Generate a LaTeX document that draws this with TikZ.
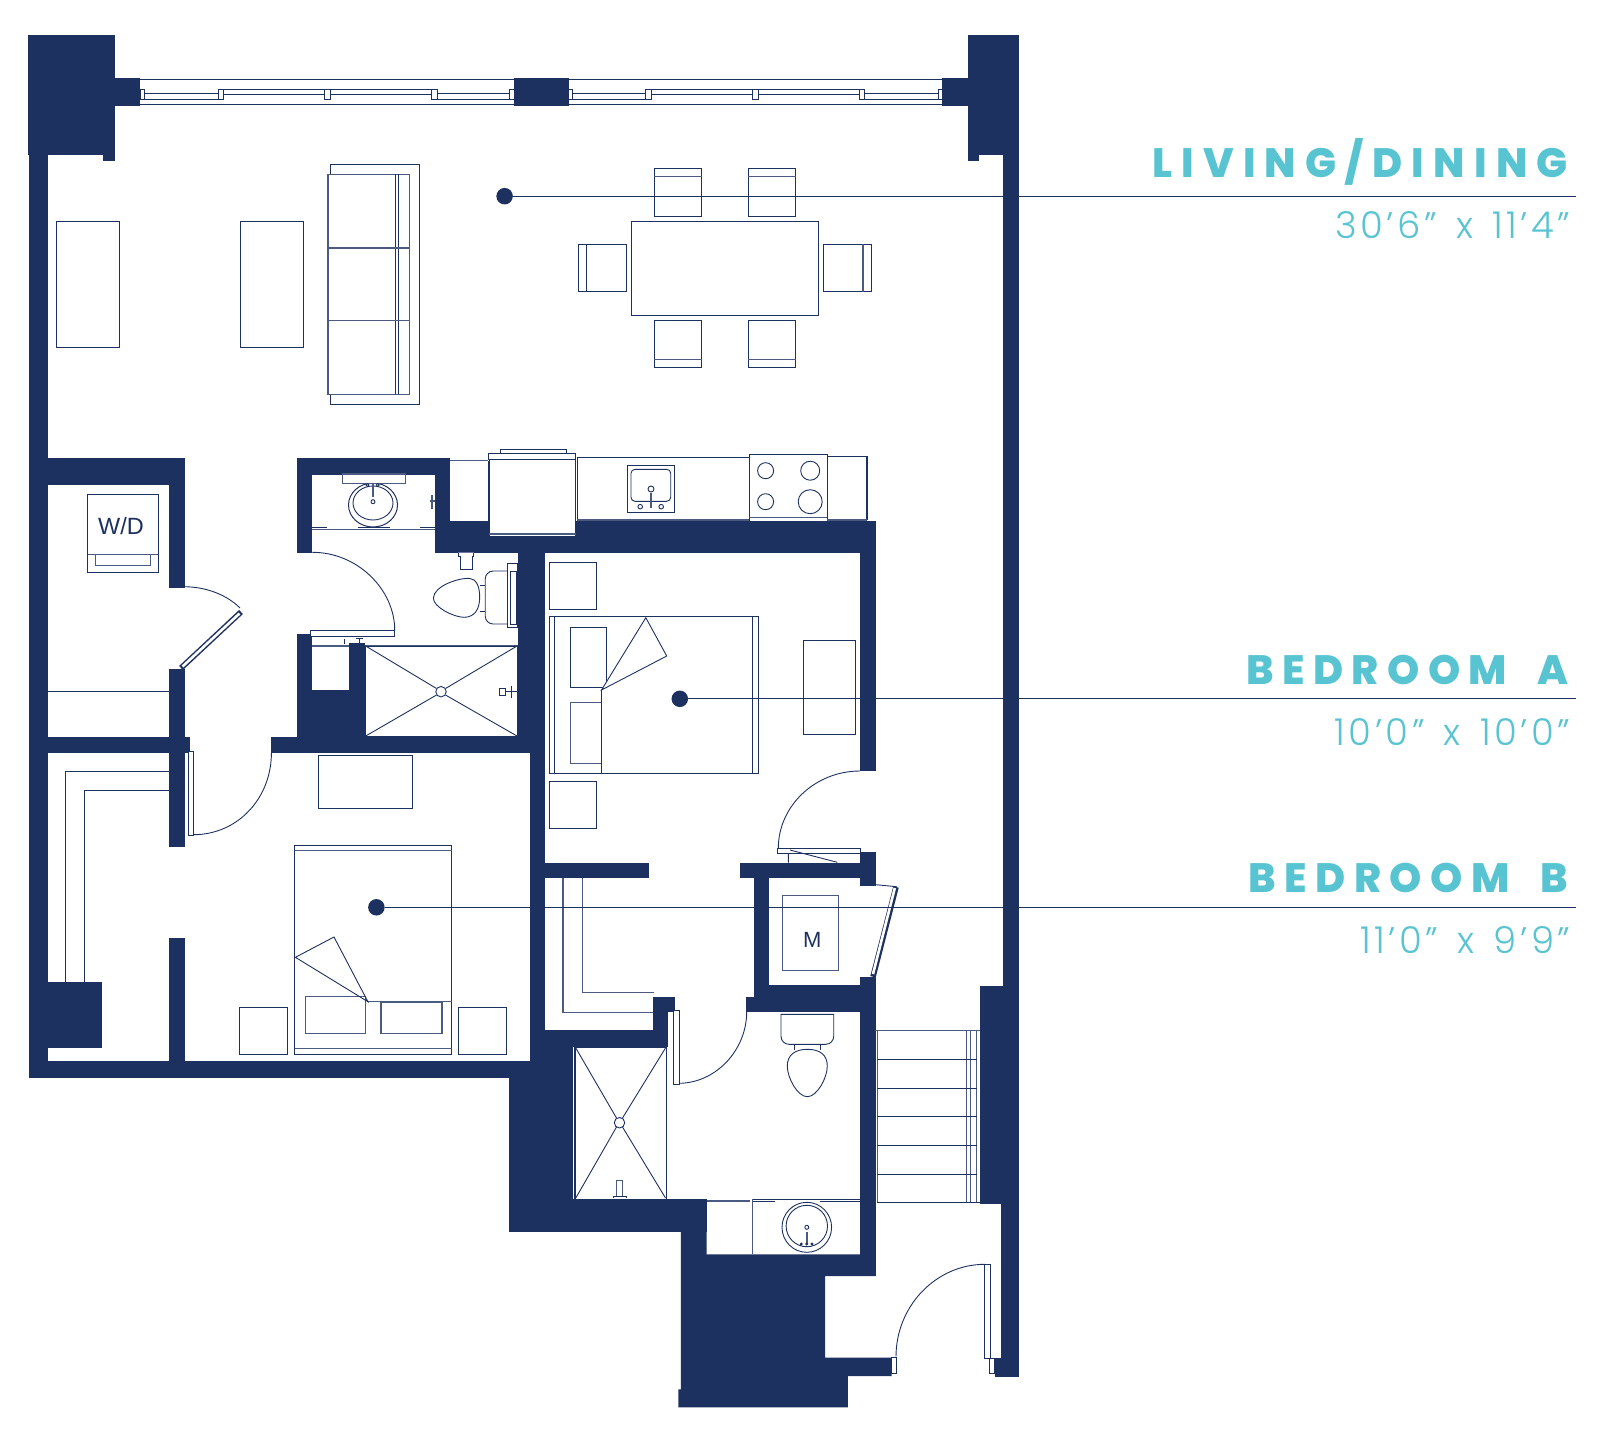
\documentclass[tikz,border=0pt]{standalone}
\usepackage{fontspec}
\setmainfont{Liberation Sans}
\newfontfamily\headfont[LetterSpace=22.5,WordSpace=1.15]{Poppins ExtraBold}
\newfontfamily\roomfont[LetterSpace=20.5,WordSpace=1.9]{Poppins ExtraBold}
\newfontfamily\subfont[LetterSpace=9.5,WordSpace=1.4]{Poppins Light}
\definecolor{navy}{HTML}{1D3160}
\definecolor{teal}{HTML}{59C4D1}
\tikzset{
  wallfill/.style={fill=navy,draw=none},
  fine/.style={draw=navy,line width=0.9pt,fill=none},
  mid/.style={draw=navy!80,line width=1.4pt,fill=none},
  piece/.style={draw=navy,line width=1pt,fill=white},
  roomdot/.style={circle,fill=navy,inner sep=0pt,minimum size=16.5pt},
  leader/.style={draw=navy,line width=0.9pt},
  head/.style={text=teal,anchor=base east,inner sep=0pt,font=\headfont\fontsize{41}{41}\selectfont},
  roomhead/.style={text=teal,anchor=base east,inner sep=0pt,font=\roomfont\fontsize{41}{41}\selectfont},
  dims/.style={text=teal,anchor=base east,inner sep=0pt,font=\subfont\fontsize{37}{37}\selectfont},
  unitlabel/.style={text=navy,inner sep=0pt,font=\fontsize{22}{22}\selectfont},
  doorleaf/.style={draw=navy,line width=5.6pt},
  doorcore/.style={draw=white,line width=2.6pt}
}
\newcommand{\wallbox}[4]{\fill[wallfill] (#1,#2) rectangle (#3,#4);}
\newcommand{\pc}[4]{\draw[piece] (#1,#2) rectangle (#3,#4);}
\begin{document}
\begin{tikzpicture}[x=1pt,y=-1pt]
\useasboundingbox (0,0) rectangle (1600,1438);
% ---------- living furniture
\pc{56.4}{221.3}{119.3}{347}
\pc{240.7}{221.3}{303.2}{347}
\pc{330.4}{164.3}{419.6}{404.3}
\draw[mid,fill=white] (327.9,174.3) rectangle (409.3,394.3);
\draw[fine] (395.7,174.3)--(395.7,394.3) (398.2,174.3)--(398.2,394.3);
\draw[mid] (327.9,248)--(409.3,248) (327.9,320.7)--(409.3,320.7);
% dining
\pc{631}{221}{818.6}{315}
\foreach \x in {654.3,748.2}{
  \pc{\x}{168.3}{\x+47.5}{216.3}
  \draw[mid] (\x,176.7)--(\x+47.5,176.7);
  \pc{\x}{320.3}{\x+47.5}{367.3}
  \draw[mid] (\x,359.3)--(\x+47.5,359.3);
}
\pc{578.2}{244.3}{626.4}{291.7}
\draw[fine] (586.8,244.3)--(586.8,291.7);
\pc{823.9}{244.3}{871.8}{291.7}
\draw[mid] (862.9,244.3)--(862.9,291.7);
% ---------- windows
\draw[fine] (140,79)--(942,79) (140,104.7)--(942,104.7);
\foreach \a/\b in {140.7/144.6,218/223,324/330,431/437.5,509.6/514,568.6/572.5,645.7/651.4,752/758,859/864.6,938/942}{
  \pc{\a}{89}{\b}{99.3}
}
\foreach \a/\b in {144.6/218,437.5/509.6,572.5/645.7,864.6/938}{
  \draw[fine] (\a,93.7) rectangle (\b,99);
}
\foreach \a/\b in {223/324,330/431,651.4/752,758/859}{
  \draw[fine] (\a,89) rectangle (\b,94.3);
}
% ---------- laundry
\pc{87.5}{494.3}{158.2}{572.7}
\draw[mid] (87.5,554.3)--(158.2,554.3);
\draw[mid] (95.4,554.3)--(95.4,565.3)--(150.4,565.3)--(150.4,554.3);
\node[unitlabel,font=\fontsize{23.5}{23.5}\selectfont] (wd) at (121,526) {W/D};
\draw[fine] (47.5,691.3)--(169,691.3);
% closet B
\draw[fine] (169,771)--(65.7,771)--(65.7,982);
\draw[fine] (169,790.7)--(84.6,790.7)--(84.6,982);
% bedroom B
\draw[piece] (318.2,755.3) rectangle (412.5,808);
\draw[piece] (294.6,845.3) rectangle (451.8,1054.3);
\draw[mid] (294.6,850.3)--(451.8,850.3) (294.6,1048.7)--(451.8,1048.7);
\draw[mid] (367.9,1001.7)--(451.8,1001.7);
\draw[mid] (305.4,996.7) rectangle (365.4,1033.3);
\draw[mid] (381,1002.3) rectangle (441.8,1033.3);
\draw[fine] (367.9,1001.7)--(295.4,957.3)--(334,937)--cycle;
\pc{239.6}{1007.3}{287}{1054.3}
\pc{458.6}{1007.3}{506.4}{1054.3}
% bedroom A
\pc{549.3}{562.3}{596.3}{609}
\pc{549.3}{781.3}{596.3}{828.3}
\draw[piece] (549.3,616.7) rectangle (758,773.3);
\draw[fine] (554.4,616.7)--(554.4,773.3) (752.9,616.7)--(752.9,773.3);
\draw[fine] (570.2,627.3) rectangle (606.6,687.7);
\draw[mid] (570.2,702.7) rectangle (601.5,763.3);
\draw[fine,fill=white] (601.5,690)--(645.8,617.7)--(666.7,656)--cycle;
\draw[fine] (601.5,690)--(601.5,773.3);
\pc{803.5}{640.7}{855.7}{734.7}
% closet A
\draw[mid] (563,878)--(563,1012.3)--(652.7,1012.3);
\draw[mid] (582.7,878)--(582.7,992.7)--(654,992.7);
% M closet
\draw[mid,fill=white] (782.3,895.7) rectangle (838.3,970.3);
\node[unitlabel] (mm) at (812.3,939.5) {M};
% ---------- walls
\wallbox{28.2}{35}{115}{155}
\wallbox{103}{155}{115}{161}
\wallbox{28.5}{155}{47.5}{1078}
\wallbox{115}{78.3}{140.4}{105.7}
\wallbox{514}{78.3}{568.6}{105.7}
\wallbox{942}{78.3}{967.5}{105.7}
\wallbox{967.5}{35}{1019}{155}
\wallbox{967.5}{155}{978.6}{161}
\wallbox{1003}{155}{1019}{990}
% laundry walls
\wallbox{47.5}{458.3}{185}{485}
\wallbox{169.3}{485}{185}{588}
\wallbox{169.3}{669}{185}{846.7}
\wallbox{47.5}{737.3}{190}{752.7}
\wallbox{169.3}{937.7}{185}{1062}
\wallbox{47.5}{982.3}{101.8}{1047.7}
\wallbox{28.5}{1060.7}{529.5}{1078}
% bath 1
\wallbox{297}{458.3}{450}{475}
\wallbox{297}{475}{312.4}{553.3}
\wallbox{435}{475}{450}{552.7}
\wallbox{435}{521}{875.5}{552.7}
\wallbox{860}{552.7}{875.5}{771}
\wallbox{518}{552.7}{544.5}{752.7}
\wallbox{529.5}{752.7}{545}{1046.7}
\wallbox{270.7}{737.3}{544.5}{752.7}
\wallbox{297}{634.3}{312.4}{737.3}
\wallbox{297}{690}{365}{737.3}
\wallbox{349}{643.3}{365}{737.3}
\wallbox{312.4}{645}{349}{647}
% bedroom A lower walls
\wallbox{545}{862.7}{649}{878.3}
\wallbox{740}{862.7}{876}{878.3}
\wallbox{860}{852.3}{876}{886}
\wallbox{754}{862.7}{769.3}{1011.7}
\wallbox{754}{985}{876}{1011.7}
\wallbox{745.7}{996.7}{876}{1011.7}
\wallbox{860}{976.7}{875.5}{1276}
% closet A / bath 2 walls
\wallbox{652.7}{996.7}{675.3}{1011.7}
\wallbox{652.7}{996.7}{668}{1046.7}
\wallbox{530}{1030}{668}{1046.7}
\wallbox{508.5}{1060.7}{574}{1231.7}
\wallbox{530}{1030}{574}{1061}
\wallbox{508.5}{1199}{706.6}{1231.7}
\fill[wallfill] (680.8,1199)--(706.6,1199)--(706.6,1254.3)--(875.5,1254.3)--(875.5,1276)--(825,1276)--(825,1357.7)--(891.5,1357.7)--(891.5,1376)--(847.8,1376)--(847.8,1407.3)--(678.4,1407.3)--(678.4,1389.3)--(680.8,1389.3)--cycle;
\wallbox{980.4}{986}{1019.3}{1204.3}
\wallbox{1001.4}{1204.3}{1019.3}{1377}
\wallbox{994.8}{1358}{1019.3}{1377}
% ---------- kitchen
\draw[mid] (450,460.7)--(488.4,460.7);
\draw[fine] (488.4,460.7)--(488.4,521);
\draw[piece] (500,449.3) rectangle (566.7,453.3);
\draw[piece] (488.4,453) rectangle (575.8,459.3);
\draw[piece] (489,459.3) rectangle (575.8,536.7);
\draw[mid] (489,534)--(575.8,534);
\draw[line width=1.4pt,draw=navy] (577.3,457.3)--(749.4,457.3);
\draw[line width=1.6pt,draw=navy] (577.3,457.3)--(577.3,520);
\draw[mid] (577.3,520)--(749.4,520);
\draw[piece] (627.6,465.7) rectangle (674.6,512.3);
\draw[fine,rounded corners=4pt] (631,469.3) rectangle (670.7,501.3);
\draw[mid] (651,492.7)--(651,508);
\draw[fine] (651,489) circle (3) (640.2,506.7) circle (2.3) (661.2,506.7) circle (2.3);
\draw[piece] (749.4,454.7) rectangle (827.3,521);
\draw[mid] (749.4,517.3)--(827.3,517.3);
\draw[fine] (765.6,470.7) circle (8) (810.2,470.7) circle (9.5) (765.6,501.7) circle (8) (810.2,501.7) circle (12);
\draw[line width=1.4pt,draw=navy] (827.3,456.7)--(866.8,456.7)--(866.8,520);
\draw[mid] (827.3,520)--(866.8,520);
% ---------- bath 1 fixtures
\draw[mid] (312.4,529.3)--(435,529.3);
\draw[fine] (312.4,527.7)--(326.6,527.7) (358,527.7)--(389.5,527.7) (420.4,527.7)--(435,527.7);
\draw[piece] (373,505) ellipse (24.5 and 22);
\draw[fine] (373,503) ellipse (20 and 17);
\draw[mid,fill=white] (342.5,474) rectangle (405.3,483.3);
\draw[mid] (373,484)--(373,497);
\draw[fine] (373,501.7) circle (2) (367.4,485) circle (1.5) (377.7,485) circle (1.5);
\draw[mid] (432,495)--(432,509) (429.5,501)--(435,501);
\draw[piece] (458,552.7)--(458,556)--(460,556)--(460,569.3)--(472,569.3)--(472,556)--(473.8,556)--(473.8,552.7);
\draw[fine,fill=white] (433.4,598) .. controls (434,586) and (458,578) .. (469,578.3) .. controls (476,578.5) and (479.7,586) .. (479.7,597) .. controls (479.7,610) and (474,617.3) .. (464,617.3) .. controls (454,617.3) and (433,607) .. (433.4,598) -- cycle;
\draw[fine] (479.7,585)--(485.2,585) (479.7,611.5)--(485.2,611.5);
\draw[fine,rounded corners=8pt] (507.4,571)--(485.2,571)--(485.2,624)--(507.4,624);
\draw[line width=1.5pt,draw=navy] (507.4,563.3) rectangle (518,627.7);
\draw[fine] (510,571)--(516,571)--(516,624)--(510,624)--cycle;
\draw[mid] (365,645.5)--(518,645.5);
\draw[fine,fill=white] (365.7,646)--(365.7,736)--(517,736)--(517,646)--cycle;
\draw[fine] (365.7,646)--(436.5,688.5) (517,646)--(445.5,688.5) (365.7,736)--(436.5,695) (517,736)--(445.5,695);
\node[circle,draw=navy,line width=0.9pt,fill=white,inner sep=0pt,minimum size=10.5pt] (drainA) at (441,691.7) {};
\draw[fine] (499,688) rectangle (505,695) (505,691.5)--(516.5,691.5) (511,686)--(511,698);
\draw[mid] (312.4,646)--(349,646);
\draw[piece] (310.8,630.7) rectangle (394.7,636);
\draw[fine] (312.4,552.3) .. controls (358,552.3) and (394.7,590) .. (394.7,630);
\draw[fine] (356,638)--(363,638) (359.5,638)--(359.5,643) (344.5,639)--(344.5,644);
% ---------- doors
\draw[fine] (185,586.7) .. controls (205,587) and (226,594) .. (240,608);
\draw[doorleaf] (241,612)--(181,668);
\draw[doorcore] (239.5,613.5)--(182.5,666.5);
\draw[piece] (188.2,751) rectangle (193.2,835.3);
\draw[fine] (193.2,834.7) .. controls (238,834.7) and (271.4,798) .. (271.4,753);
\draw[fine] (860,771) .. controls (815,771) and (778.3,806) .. (778.3,848.3);
\draw[piece] (777.7,848.3) rectangle (860.5,853.7);
\draw[fine] (788.3,853.7)--(788.3,862.7) (790,850)--(837.3,862.3);
\draw[fine] (876,884.7)--(896.7,886.7);
\draw[doorleaf] (896,887)--(873,976.7);
\draw[doorcore] (894.8,888)--(873,974);
\draw[piece] (673.3,1010) rectangle (679,1084);
\draw[fine] (679,1083.3) .. controls (716,1083) and (746.7,1050) .. (746.7,1011.7);
\draw[fine] (896,1356.7) .. controls (896,1306) and (936,1264.3) .. (984.9,1264.3);
\draw[piece] (891.5,1357.7) rectangle (896.7,1373.3);
\draw[piece] (984.9,1264) rectangle (990.4,1358.3);
\draw[piece] (989.7,1358.3) rectangle (994.8,1373.3);
% ---------- bath 2 fixtures
\draw[fine,fill=white] (781,1014.3) [rounded corners=8pt] -- (781,1044.3) -- (833.7,1044.3) [sharp corners] -- (833.7,1014.3) -- cycle;
\draw[fine] (794,1044.3)--(794,1050) (820.5,1044.3)--(820.5,1050);
\draw[fine,fill=white] (807.3,1049.3) .. controls (820,1049.3) and (827.3,1055) .. (827.3,1066) .. controls (827.3,1078) and (817,1096.7) .. (807.3,1096.7) .. controls (797.6,1096.7) and (787.3,1078) .. (787.3,1066) .. controls (787.3,1055) and (795,1049.3) .. (807.3,1049.3) -- cycle;
\fill[white] (573,1046.7) rectangle (574.5,1199);
\draw[fine] (574,1047) rectangle (666.7,1199);
\draw[fine] (575.8,1047)--(575.8,1199);
\draw[fine] (575.8,1048)--(616.5,1118) (665.5,1048)--(622.5,1118) (575.8,1198)--(616.5,1127) (665.5,1198)--(622.5,1127);
\node[circle,draw=navy,line width=0.9pt,fill=white,inner sep=0pt,minimum size=10.5pt] (drainB) at (619.5,1122.7) {};
\draw[mid] (616.4,1197)--(616.4,1180.7)--(622.6,1180.7)--(622.6,1197);
\draw[fine] (613,1198)--(613,1196)--(626.7,1196)--(626.7,1198);
\draw[mid] (706.6,1201)--(750,1201);
\draw[fine] (752.4,1199)--(860,1199) (752.4,1201.7)--(775,1201.7) (820,1201.7)--(860,1201.7);
\draw[mid] (752.4,1199)--(752.4,1254);
\draw[fine] (806.8,1227.3) ellipse (24.8 and 25);
\draw[fine] (806.8,1226) ellipse (20.7 and 20.7);
\draw[fine] (806.8,1227.3) circle (2);
\draw[mid] (806.8,1231.7)--(806.8,1242.7);
\fill[navy] (801.3,1244) circle (1.6) (806.8,1244) circle (1.6) (812,1244) circle (1.6);
% ---------- stairs
\draw[mid] (875.3,1030.7)--(980.4,1030.7);
\draw[mid] (877.4,1030.7)--(877.4,1202.7) (966.6,1030.7)--(966.6,1202.7) (970.7,1030.7)--(970.7,1202.7) (976.6,1030.7)--(976.6,1202.7);
\draw[fine] (877.4,1059.3)--(976.6,1059.3) (877.4,1088.3)--(976.6,1088.3) (877.4,1116.7)--(976.6,1116.7) (877.4,1145.3)--(976.6,1145.3) (877.4,1174)--(976.6,1174) (877.4,1202.7)--(980.4,1202.7);
% ---------- leaders
\node[roomdot] (dotL) at (504.6,196.2) {};
\node[roomdot] (dotA) at (679.8,698.8) {};
\node[roomdot] (dotB) at (376.4,907.3) {};
\coordinate (endL) at (1576,196.2);
\coordinate (endA) at (1576,698.8);
\coordinate (endB) at (1576,907.3);
\draw[leader] (dotL) -- (endL);
\draw[leader,line width=1.2pt] (dotA) -- (endA);
\draw[leader] (dotB) -- (endB);
% ---------- labels
\node[head] (tL) at (1568,177.3) {LIVING/DINING};
\node[dims] (sL) at (1570.7,238) {30’6” x 11’4”};
\node[roomhead] (tA) at (1569,684) {BEDROOM A};
\node[dims] (sA) at (1570.7,745.5) {10’0” x 10’0”};
\node[roomhead] (tB) at (1568,892.3) {BEDROOM B};
\node[dims] (sB) at (1570.7,953.2) {11’0” x 9’9”};
\end{tikzpicture}
\end{document}
